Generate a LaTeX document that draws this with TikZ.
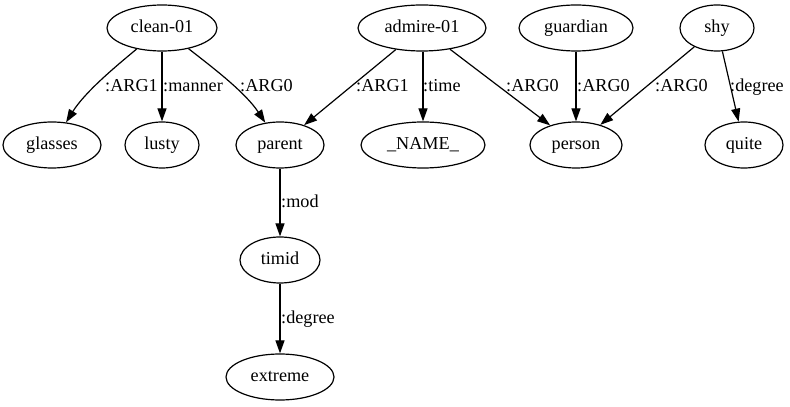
\documentclass[tikz,border=0pt]{standalone}
\usepackage{fontspec}
\setmainfont{Liberation Serif}
\usetikzlibrary{shapes.geometric,arrows.meta}
\begin{document}
\begin{tikzpicture}[x=1pt,y=1pt,
  every node/.style={font=\fontsize{18.2}{20}\selectfont},
  amr/.style={draw, ellipse, line width=1.2pt, inner sep=0pt, minimum height=46pt, text height=13pt, text depth=4pt},
  lbl/.style={anchor=west, inner sep=0pt, text height=13pt, text depth=4pt},
  edge/.style={line width=1.2pt, -{Triangle[length=13pt,width=9pt]}}]
\useasboundingbox (0,0) rectangle (790,407);
% top row
\node[amr, minimum width=110pt] (clean) at (162,379) {clean-01};
\node[amr, minimum width=128pt] (admire) at (422,379) {admire-01};
\node[amr, minimum width=114pt] (guardian) at (576,379) {guardian};
\node[amr, minimum width=74pt] (shy) at (717,379) {shy};
% second row
\node[amr, minimum width=98pt] (glasses) at (52,262) {glasses};
\node[amr, minimum width=74pt] (lusty) at (162,262) {lusty};
\node[amr, minimum width=88pt] (parent) at (280,262) {parent};
\node[amr, minimum width=124pt] (name) at (423,262) {\_NAME\_};
\node[amr, minimum width=92pt] (person) at (576,262) {person};
\node[amr, minimum width=78pt] (quite) at (744,262) {quite};
% lower rows
\node[amr, minimum width=80pt] (timid) at (280,147) {timid};
\node[amr, minimum width=108pt] (extreme) at (280,30) {extreme};
% edges
\draw[edge] (clean) .. controls (115,340) and (85,315) .. (glasses);
\draw[edge] (clean) -- (lusty);
\draw[edge] (clean) .. controls (212,340) and (245,315) .. (parent);
\draw[edge] (admire) -- (parent);
\draw[edge] (admire.south -| name.north) -- (name);
\draw[edge] (admire) -- (person);
\draw[edge] (guardian) -- (person);
\draw[edge] (shy) -- (person);
\draw[edge] (shy) -- (quite);
\draw[edge] (parent) -- (timid);
\draw[edge] (timid) -- (extreme);
% labels
\node[lbl] (l1) at (105,320) {:ARG1};
\node[lbl] (l2) at (163,320) {:manner};
\node[lbl] (l3) at (240,320) {:ARG0};
\node[lbl] (l4) at (356,320) {:ARG1};
\node[lbl] (l5) at (423,320) {:time};
\node[lbl] (l6) at (506,320) {:ARG0};
\node[lbl] (l7) at (577,320) {:ARG0};
\node[lbl] (l8) at (655,320) {:ARG0};
\node[lbl] (l9) at (730,320) {:degree};
\node[lbl] (l10) at (281,204) {:mod};
\node[lbl] (l11) at (281,88) {:degree};
\end{tikzpicture}
\end{document}
